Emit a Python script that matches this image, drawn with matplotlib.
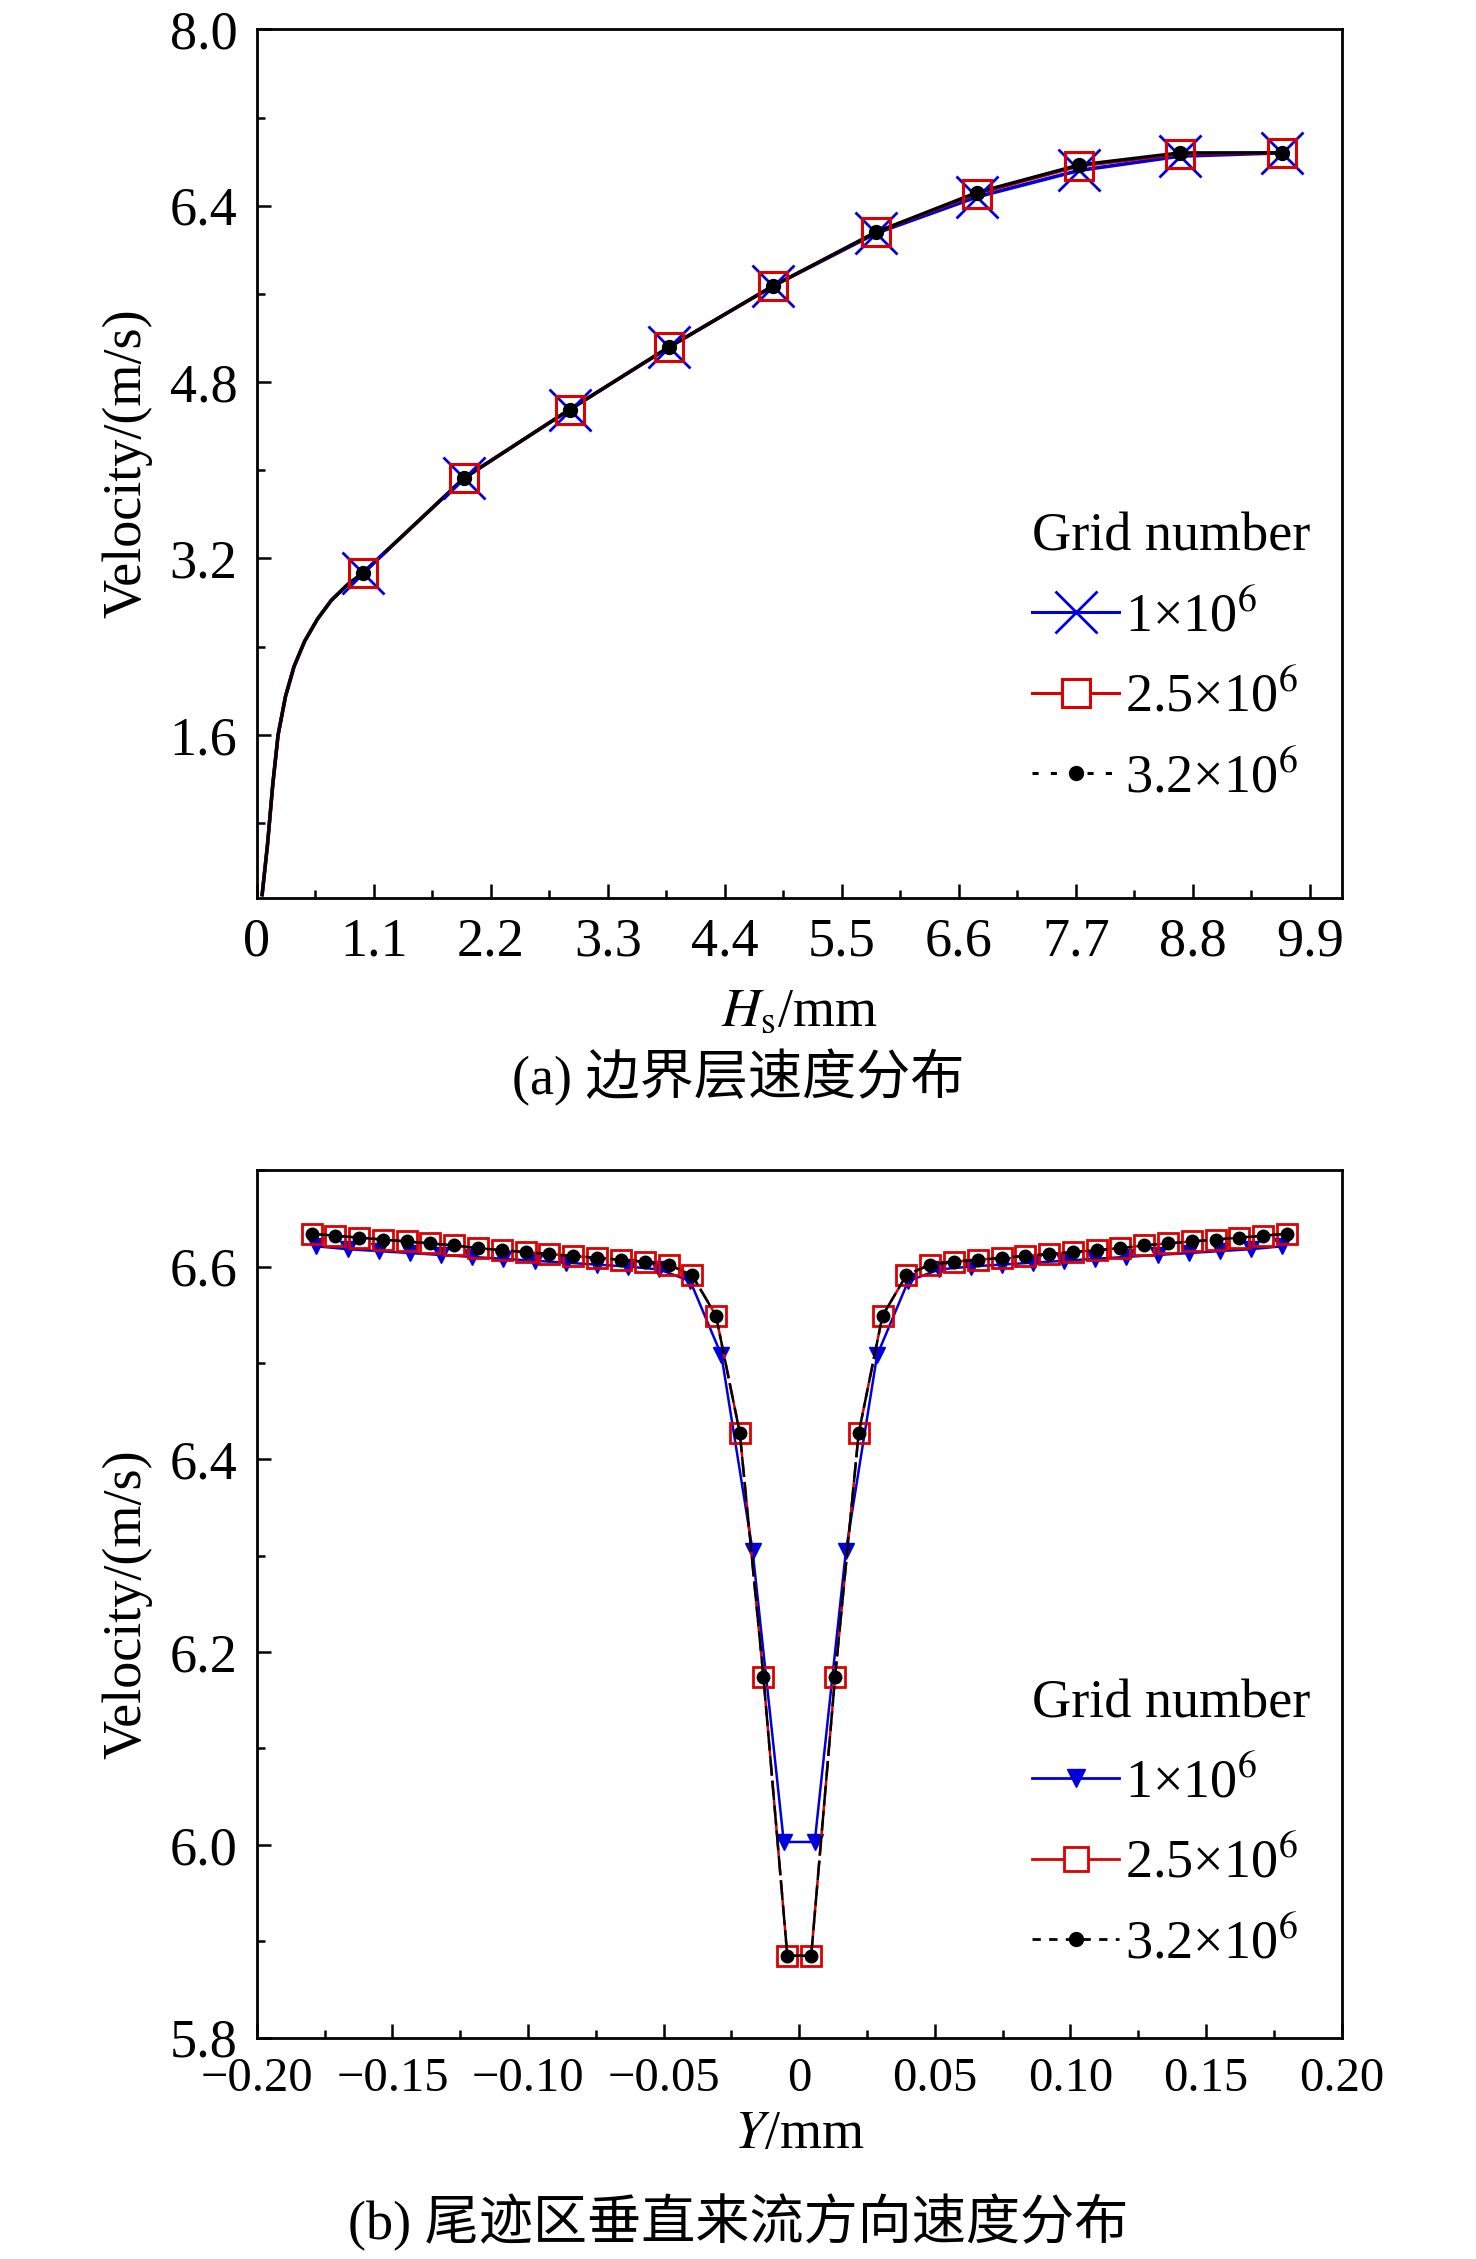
import numpy as np
import matplotlib
matplotlib.use("Agg")
import matplotlib.pyplot as plt
from matplotlib.ticker import MultipleLocator, FixedLocator

plt.rcParams['font.family'] = ['Liberation Serif', 'Noto Sans CJK SC']
plt.rcParams['mathtext.fontset'] = 'stix'

# ---- panel (a) data ----
hs_curve = [0.05, 0.1, 0.15, 0.2, 0.27, 0.35, 0.45, 0.57, 0.7, 0.85, 1.0]
v_curve = [0.15, 0.6, 1.15, 1.6, 1.95, 2.22, 2.45, 2.65, 2.82, 2.96, 3.07]
hs_mark = [1.0, 1.95, 2.94, 3.88, 4.85, 5.82, 6.77, 7.73, 8.68, 9.64]
v1_a = [3.07, 3.93, 4.55, 5.12, 5.67, 6.15, 6.48, 6.72, 6.85, 6.88]
v2_a = [3.07, 3.93, 4.55, 5.12, 5.67, 6.16, 6.51, 6.76, 6.87, 6.88]
v3_a = [3.07, 3.93, 4.55, 5.12, 5.67, 6.16, 6.52, 6.77, 6.88, 6.88]

# ---- panel (b) data ----
y_fine = [0.0044, 0.0132, 0.0219, 0.0307, 0.0395, 0.0482, 0.0570, 0.0658,
          0.0746, 0.0833, 0.0921, 0.1009, 0.1096, 0.1184, 0.1272, 0.1360,
          0.1447, 0.1535, 0.1623, 0.1710, 0.1798]
v_fine = [5.885, 6.174, 6.427, 6.549, 6.591, 6.602, 6.605, 6.607, 6.609, 6.611,
          6.613, 6.615, 6.617, 6.619, 6.622, 6.624, 6.626, 6.628, 6.630, 6.632, 6.634]
y_coarse = [0.0057, 0.0172, 0.0287, 0.0402, 0.0517, 0.0632, 0.0746, 0.0861,
            0.0976, 0.1091, 0.1206, 0.1321, 0.1436, 0.1550, 0.1665, 0.1780]
v_coarse = [6.003, 6.305, 6.508, 6.585, 6.597, 6.600, 6.602, 6.604, 6.606,
            6.608, 6.610, 6.612, 6.614, 6.616, 6.618, 6.621]

labels = ['1×10$^{6}$', '2.5×10$^{6}$', '3.2×10$^{6}$']

def sym(xs, vs):
    x = [-v for v in xs[::-1]] + list(xs)
    y = list(vs[::-1]) + list(vs)
    return x, y

fig = plt.figure(figsize=(14.76, 22.59), dpi=100)
ax1 = fig.add_axes([0.174, 0.6025, 0.735, 0.3845])
ax2 = fig.add_axes([0.174, 0.098, 0.735, 0.384])

fs = 39
# panel a
xa = hs_curve + hs_mark[1:]
ax1.plot(xa, v_curve + v1_a[1:], color='#0000dd', lw=2.6)
ax1.plot(xa, v_curve + v2_a[1:], color='#dd0000', lw=2.4)
ax1.plot(xa, v_curve + v3_a[1:], color='black', lw=2.4)
ax1.plot(hs_mark, v1_a, ls='none', marker='x', ms=30, mew=2, color='#0000dd')
ax1.plot(hs_mark, v2_a, ls='none', marker='s', ms=20, mew=2.2, mfc='none', mec='#dd0000')
ax1.plot(hs_mark, v3_a, ls='none', marker='o', ms=10, color='black')
h1 = [ax1.plot([], [], color='#0000dd', lw=2.2, marker='x', ms=30, mew=2)[0],
      ax1.plot([], [], color='#dd0000', lw=2.2, marker='s', ms=20, mfc='white', mew=2.2)[0],
      ax1.plot([], [], color='black', lw=2.2, ls=(0, (2, 4)), marker='o', ms=10)[0]]
ax1.set_xlim(0, 10.2)
ax1.set_ylim(0.12, 8.0)
ax1.xaxis.set_major_locator(FixedLocator([0, 1.1, 2.2, 3.3, 4.4, 5.5, 6.6, 7.7, 8.8, 9.9]))
ax1.set_xticklabels(['0', '1.1', '2.2', '3.3', '4.4', '5.5', '6.6', '7.7', '8.8', '9.9'])
ax1.xaxis.set_minor_locator(FixedLocator(np.arange(0.55, 10.2, 1.1)))
ax1.yaxis.set_major_locator(FixedLocator([1.6, 3.2, 4.8, 6.4, 8.0]))
ax1.yaxis.set_minor_locator(FixedLocator([0.8, 2.4, 4.0, 5.6, 7.2]))
ax1.set_ylabel('Velocity/(m/s)', fontsize=fs, labelpad=12)
ax1.set_xlabel('$H_\\mathrm{s}$/mm', fontsize=fs, labelpad=14)
fig.text(0.5, 0.523, '(a) 边界层速度分布', ha='center', va='center', fontsize=fs)
ax1.legend(h1, labels, title='Grid number', loc='upper left', bbox_to_anchor=(0.67, 0.5),
           frameon=False, fontsize=fs, title_fontsize=fs, handlelength=1.6,
           handletextpad=0.1, labelspacing=0.55, alignment='left')

# panel b
xb, yb = sym(y_fine, v_fine)
xc, yc = sym(y_coarse, v_coarse)
ax2.plot(xc, yc, color='#0000dd', lw=1.8, marker='v', ms=11)
ax2.plot(xb, yb, color='#dd0000', lw=1.8, ls=(0, (6, 2)), marker='s', ms=15, mfc='none', mew=2)
ax2.plot(xb, yb, color='black', lw=1.8, ls=(0, (8, 2)), marker='o', ms=9)
h2 = [ax2.plot([], [], color='#0000dd', lw=2, marker='v', ms=13)[0],
      ax2.plot([], [], color='#dd0000', lw=2, marker='s', ms=17, mfc='white', mew=2)[0],
      ax2.plot([], [], color='black', lw=2, ls=(0, (3, 3)), marker='o', ms=10)[0]]
ax2.set_xlim(-0.2, 0.2)
ax2.set_ylim(5.8, 6.7)
ax2.xaxis.set_major_locator(FixedLocator([-0.2, -0.15, -0.1, -0.05, 0, 0.05, 0.1, 0.15, 0.2]))
ax2.set_xticklabels(['−0.20', '−0.15', '−0.10', '−0.05', '0', '0.05', '0.10', '0.15', '0.20'])
ax2.xaxis.set_minor_locator(MultipleLocator(0.025))
ax2.yaxis.set_major_locator(FixedLocator([5.8, 6.0, 6.2, 6.4, 6.6]))
ax2.set_yticklabels(['5.8', '6.0', '6.2', '6.4', '6.6'])
ax2.yaxis.set_minor_locator(MultipleLocator(0.1))
ax2.set_ylabel('Velocity/(m/s)', fontsize=fs, labelpad=12)
ax2.set_xlabel('$Y$/mm', fontsize=fs, labelpad=6)
fig.text(0.5, 0.016, '(b) 尾迹区垂直来流方向速度分布', ha='center', va='center', fontsize=fs)
ax2.legend(h2, labels, title='Grid number', loc='upper left', bbox_to_anchor=(0.67, 0.47),
           frameon=False, fontsize=fs, title_fontsize=fs, handlelength=1.6,
           handletextpad=0.1, labelspacing=0.55, alignment='left')

for ax in (ax1, ax2):
    ax.tick_params(which='both', direction='in', top=False, right=False, labelsize=fs, width=1.8)
    ax.tick_params(which='major', length=10, pad=14)
    ax.tick_params(which='minor', length=6)
    for s in ax.spines.values():
        s.set_linewidth(2)
ax2.tick_params(axis='x', which='major', labelsize=35)

fig.savefig('out.png', dpi=100)
